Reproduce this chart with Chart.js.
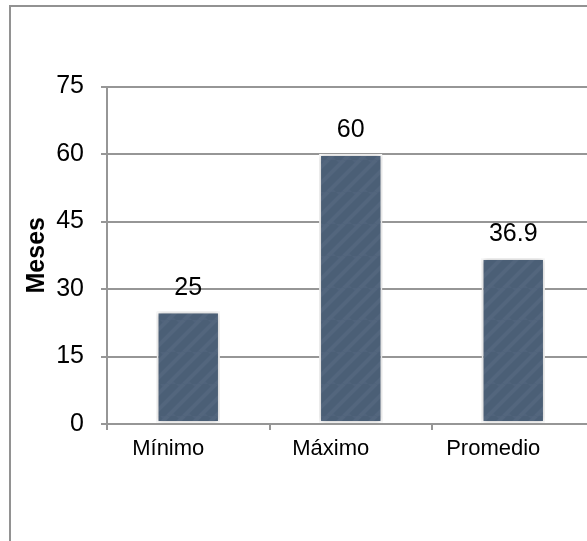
<!DOCTYPE html>
<html>
<head>
<meta charset="utf-8">
<script src="https://cdn.jsdelivr.net/npm/chart.js@4.4.1/dist/chart.umd.min.js"></script>
<style>
  html, body { margin: 0; padding: 0; background: #fff; overflow: hidden; width: 587px; height: 541px; }
  #frame { position: absolute; left: 9px; top: 5px; width: 700px; height: 700px; border: 2px solid #929292; box-sizing: border-box; }
  #chart { position: absolute; left: 0; top: 0; }
</style>
</head>
<body>
<div id="frame"></div>
<canvas id="chart" width="600" height="541"></canvas>
<script>
// Duración en meses: mínimo, máximo y promedio
const categories = ['Mínimo', 'Máximo', 'Promedio'];
const meses = [25, 60, 36.9];
const valueLabels = ['25', '60', '36.9'];
const yTicks = [0, 15, 30, 45, 60, 75];

const FONT = '"Liberation Sans", Arial, sans-serif';
const GRID = '#969696';

// Subtle diagonal texture for the bar fill
function barPattern() {
  const c = document.createElement('canvas');
  c.width = 32; c.height = 32;
  const g = c.getContext('2d');
  g.fillStyle = '#50637b';
  g.fillRect(0, 0, 32, 32);
  g.strokeStyle = 'rgba(30,45,65,0.08)';
  g.lineWidth = 7;
  for (let k = -32; k <= 64; k += 16) {
    g.beginPath(); g.moveTo(k, 32); g.lineTo(k + 32, 0); g.stroke();
  }
  g.strokeStyle = 'rgba(130,150,175,0.06)';
  g.lineWidth = 4;
  for (let k = -24; k <= 64; k += 16) {
    g.beginPath(); g.moveTo(k, 32); g.lineTo(k + 32, 0); g.stroke();
  }
  return g.createPattern(c, 'repeat');
}

// Soft shadow around each bar
const barShadow = {
  id: 'barShadow',
  beforeDatasetDraw(chart) {
    const ctx = chart.ctx;
    ctx.save();
    ctx.shadowColor = 'rgba(0,0,0,0.28)';
    ctx.shadowBlur = 5;
    ctx.shadowOffsetX = 0;
    ctx.shadowOffsetY = 0;
  },
  afterDatasetDraw(chart) { chart.ctx.restore(); }
};

// Value labels above the bars
const valueLabelPlugin = {
  id: 'valueLabels',
  afterDatasetsDraw(chart) {
    const ctx = chart.ctx;
    const meta = chart.getDatasetMeta(0);
    ctx.save();
    ctx.font = '25px ' + FONT;
    ctx.fillStyle = '#000';
    ctx.textAlign = 'center';
    ctx.textBaseline = 'alphabetic';
    meta.data.forEach((bar, i) => {
      ctx.fillText(valueLabels[i], bar.x, bar.y - 17);
    });
    ctx.restore();
  }
};

new Chart(document.getElementById('chart'), {
  type: 'bar',
  data: {
    labels: categories,
    datasets: [{
      data: meses,
      backgroundColor: barPattern(),
      borderColor: '#ffffff',
      borderWidth: 2,
      borderSkipped: false,
      categoryPercentage: 1,
      barPercentage: 0.39
    }]
  },
  options: {
    responsive: false,
    animation: false,
    devicePixelRatio: 1,
    layout: { padding: { left: 22, top: 86.5, right: 5.5, bottom: 0 } },
    plugins: { legend: { display: false }, tooltip: { enabled: false } },
    scales: {
      x: {
        grid: { offset: true, drawOnChartArea: false, drawTicks: true, tickLength: 6, color: GRID, lineWidth: 2 },
        border: { display: true, color: GRID, width: 2 },
        ticks: { color: '#000', font: { family: FONT, size: 22 }, padding: 6, maxRotation: 0, labelOffset: -20 },
        afterFit(s) { s.height = 117; }
      },
      y: {
        min: 0, max: 75,
        afterBuildTicks(s) { s.ticks = yTicks.map(v => ({ value: v })); },
        grid: { color: GRID, lineWidth: 2, tickLength: 6 },
        border: { display: true, color: GRID, width: 2 },
        ticks: { color: '#000', font: { family: FONT, size: 25 }, padding: 17 },
        title: { display: true, text: 'Meses', color: '#000', font: { family: FONT, size: 25, weight: 'bold' }, padding: 0 },
        afterFit(s) { s.width = 85; }
      }
    }
  },
  plugins: [barShadow, valueLabelPlugin]
});
</script>
</body>
</html>
